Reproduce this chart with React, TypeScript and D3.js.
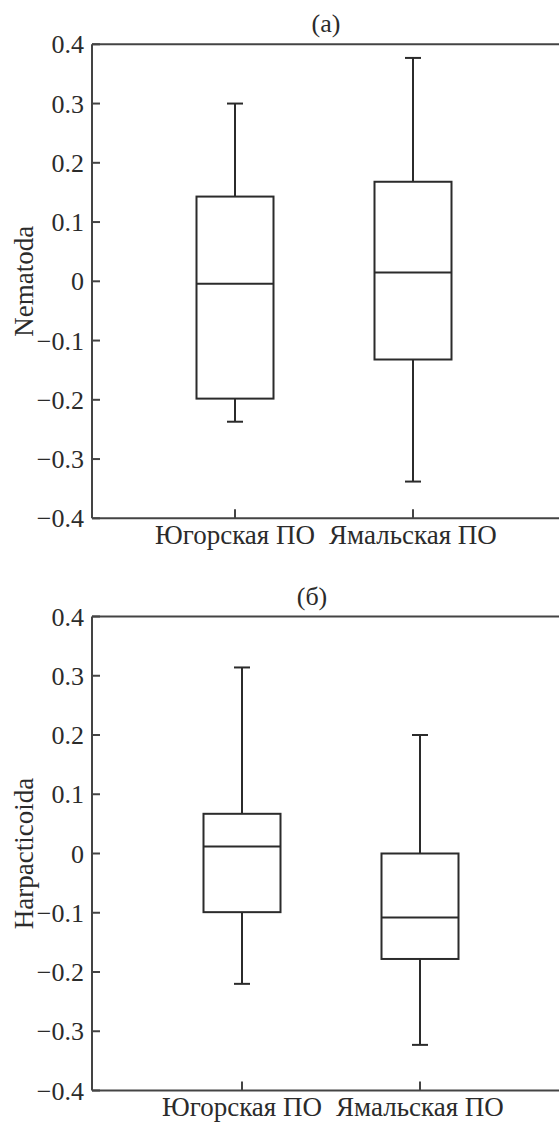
import React from 'react';
import * as d3 from 'd3';

const categories = ['Югорская ПО', 'Ямальская ПО'];
const yTicks = [-0.4, -0.3, -0.2, -0.1, 0, 0.1, 0.2, 0.3, 0.4];

// Nematoda (a)
const nemLow = [-0.237, -0.338];
const nemQ1 = [-0.198, -0.132];
const nemMedian = [-0.004, 0.015];
const nemQ3 = [0.143, 0.168];
const nemHigh = [0.300, 0.377];

// Harpacticoida (б)
const harLow = [-0.22, -0.323];
const harQ1 = [-0.099, -0.178];
const harMedian = [0.012, -0.108];
const harQ3 = [0.067, 0.0];
const harHigh = [0.314, 0.2];

const W = 559;
const H = 1122;
const FONT = '"Liberation Serif", "Times New Roman", serif';
const INK = '#2b2b2b';

interface PanelProps {
  title: string;
  titleX: number;
  yLabel: string;
  top: number;
  xFirst: number;
  low: number[];
  q1: number[];
  median: number[];
  q3: number[];
  high: number[];
}

const left = 92;
const plotH = 474;
const boxW = 77;
const capW = 16;

const fmt = (d: number) => (Math.abs(d) < 1e-9 ? '0' : (d < 0 ? '\u2212' : '') + Math.abs(d).toFixed(1));

const Panel: React.FC<PanelProps> = ({ title, titleX, yLabel, top, xFirst, low, q1, median, q3, high }) => {
  const bottom = top + plotH;
  const y = d3.scaleLinear().domain([-0.4, 0.4]).range([bottom, top]);
  const x = d3.scalePoint<string>().domain(categories).range([xFirst, xFirst + 178]);

  return (
    <g style={{ fontFamily: FONT }} fill={INK}>
      <text x={titleX} y={top - 12} textAnchor="middle" fontSize={26}>{title}</text>

      {/* frame: left, top, bottom (right side runs off the page) */}
      <line x1={left} y1={top} x2={W} y2={top} stroke="#444" strokeWidth={2} />
      <line x1={left} y1={bottom} x2={W} y2={bottom} stroke="#444" strokeWidth={2} />
      <line x1={left} y1={top} x2={left} y2={bottom} stroke="#444" strokeWidth={2} />

      {yTicks.map(t => (
        <g key={t} transform={`translate(0, ${y(t)})`}>
          <line x1={left} x2={left + 8} stroke="#444" strokeWidth={2} />
          <text x={left - 8} dy="0.35em" textAnchor="end" fontSize={26}>{fmt(t)}</text>
        </g>
      ))}

      {categories.map(c => (
        <g key={c}>
          <line x1={x(c)} x2={x(c)} y1={bottom} y2={bottom - 9} stroke="#444" strokeWidth={2} />
          <text x={x(c)} y={bottom + 25.5} textAnchor="middle" fontSize={27}>{c}</text>
        </g>
      ))}

      <text
        transform={`translate(33, ${(top + bottom) / 2}) rotate(-90)`}
        textAnchor="middle"
        fontSize={27}
      >
        {yLabel}
      </text>

      {categories.map((c, i) => {
        const cx = x(c) as number;
        return (
          <g key={c} stroke={INK} strokeWidth={2} fill="none">
            <line x1={cx} x2={cx} y1={y(q3[i])} y2={y(high[i])} />
            <line x1={cx - capW / 2} x2={cx + capW / 2} y1={y(high[i])} y2={y(high[i])} />
            <line x1={cx} x2={cx} y1={y(q1[i])} y2={y(low[i])} />
            <line x1={cx - capW / 2} x2={cx + capW / 2} y1={y(low[i])} y2={y(low[i])} />
            <rect x={cx - boxW / 2} y={y(q3[i])} width={boxW} height={y(q1[i]) - y(q3[i])} fill="#fff" />
            <line x1={cx - boxW / 2} x2={cx + boxW / 2} y1={y(median[i])} y2={y(median[i])} />
          </g>
        );
      })}
    </g>
  );
};

export default function App() {
  return (
    <div style={{ position: 'absolute', left: 0, top: 0 }}>
      <svg width={W} height={H} viewBox={`0 0 ${W} ${H}`} style={{ display: 'block', background: '#fff' }}>
        <Panel
          title="(a)"
          titleX={326}
          yLabel="Nematoda"
          top={44.3}
          xFirst={235}
          low={nemLow}
          q1={nemQ1}
          median={nemMedian}
          q3={nemQ3}
          high={nemHigh}
        />
        <Panel
          title="(б)"
          titleX={312}
          yLabel="Harpacticoida"
          top={616.5}
          xFirst={242}
          low={harLow}
          q1={harQ1}
          median={harMedian}
          q3={harQ3}
          high={harHigh}
        />
      </svg>
    </div>
  );
}
